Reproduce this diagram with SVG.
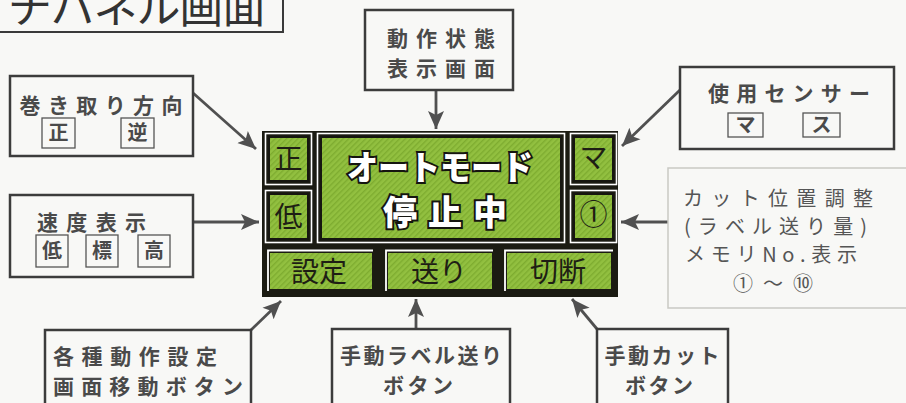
<svg xmlns="http://www.w3.org/2000/svg" width="906" height="403" viewBox="0 0 906 403">
<style>
.bx{fill:none;stroke:#3c3c3c;stroke-width:2.5}
.sb{fill:none;stroke:#555;stroke-width:1.3}
.t{font-family:"Noto Sans CJK JP","Noto Sans",sans-serif;font-weight:700;fill:#4a4a4a;font-size:21px;text-anchor:middle}
.ts{font-family:"Noto Sans CJK JP","Noto Sans",sans-serif;font-weight:700;fill:#4a4a4a;font-size:20px;text-anchor:middle}
.tl{font-family:"Noto Sans CJK JP","Noto Sans",sans-serif;font-weight:400;fill:#555;font-size:20px}
.cellw{fill:none;stroke:#fff;stroke-width:1.6}
.cell{fill:url(#g);stroke:#161610;stroke-width:2}
.lcd{font-family:"Noto Sans CJK JP",sans-serif;font-weight:400;fill:#1e1e14;font-size:28px;text-anchor:middle}
.big{font-family:"Noto Sans CJK JP",sans-serif;font-weight:900;fill:#fff;stroke:#151510;stroke-width:4;paint-order:stroke;font-size:34px;text-anchor:middle}
.con{stroke:#505050;stroke-width:2.8;fill:none;marker-end:url(#ah)}
</style>
<defs>
<pattern id="g" width="4" height="4" patternUnits="userSpaceOnUse" patternTransform="rotate(45)">
<rect width="4" height="4" fill="#92c040"/>
<rect width="1.4" height="4" fill="#7eac30"/>
</pattern>
<marker id="ah" markerUnits="userSpaceOnUse" markerWidth="20" markerHeight="20" viewBox="0 0 20 20" refX="18" refY="10" orient="auto">
<path d="M0,2 L18,10 L0,18 L4,10 Z" fill="#505050"/>
</marker>
</defs>
<rect width="906" height="403" fill="#f8f8f6"/>

<g id="title">
<rect x="-5" y="-5" width="288" height="37" fill="none" stroke="#3a3a3a" stroke-width="2"/>
<text x="8" y="23" font-family="'Noto Sans CJK JP',sans-serif" font-weight="400" font-size="44" fill="#333" textLength="258" lengthAdjust="spacing">チパネル画面</text>
</g>

<g id="connectors">
<line class="con" x1="193" y1="93" x2="256" y2="149"/>
<line class="con" x1="193" y1="222" x2="259" y2="222"/>
<line class="con" x1="251" y1="330" x2="281" y2="301"/>
<line class="con" x1="436" y1="90" x2="436" y2="129"/>
<line class="con" x1="680" y1="90" x2="622" y2="146"/>
<line class="con" x1="668" y1="222" x2="621" y2="222"/>
<line class="con" x1="416" y1="329" x2="416" y2="299"/>
<line class="con" x1="597" y1="329" x2="572" y2="299"/>
</g>

<g id="winding">
<rect class="bx" x="10" y="76" width="183" height="80"/>
<text class="t" x="101" y="113" textLength="163" lengthAdjust="spacing">巻き取り方向</text>
<rect class="sb" x="42" y="118" width="33" height="30"/>
<text class="ts" x="58.5" y="140">正</text>
<rect class="sb" x="121" y="118" width="33" height="30"/>
<text class="ts" x="137.5" y="140">逆</text>
</g>

<g id="speed">
<rect class="bx" x="10" y="195" width="183" height="82"/>
<text class="t" x="91.5" y="230" textLength="109" lengthAdjust="spacing">速度表示</text>
<rect class="sb" x="36" y="235" width="32" height="32"/>
<text class="ts" x="52" y="258">低</text>
<rect class="sb" x="86" y="235" width="32" height="32"/>
<text class="ts" x="102" y="258">標</text>
<rect class="sb" x="138" y="235" width="32" height="32"/>
<text class="ts" x="154" y="258">高</text>
</g>

<g id="settings-btn-label">
<rect class="bx" x="45" y="330" width="206" height="80"/>
<text class="t" x="135" y="364" textLength="164" lengthAdjust="spacing">各種動作設定</text>
<text class="t" x="148" y="394" textLength="190" lengthAdjust="spacing">画面移動ボタン</text>
</g>

<g id="status-label">
<rect class="bx" x="365" y="10" width="148" height="80"/>
<text class="t" x="441" y="46" textLength="108" lengthAdjust="spacing">動作状態</text>
<text class="t" x="441" y="76" textLength="108" lengthAdjust="spacing">表示画面</text>
</g>

<g id="sensor">
<rect class="bx" x="680" y="67" width="214" height="82"/>
<text class="t" x="789" y="101" textLength="162" lengthAdjust="spacing">使用センサー</text>
<rect class="sb" x="728" y="113" width="35" height="24"/>
<text class="ts" x="745.5" y="132">マ</text>
<rect class="sb" x="803" y="113" width="37" height="24"/>
<text class="ts" x="821.5" y="132">ス</text>
</g>

<g id="cut-position">
<rect x="668" y="168" width="250" height="140" fill="none" stroke="#c9c9c4" stroke-width="1.5"/>
<text class="tl" x="683" y="206" textLength="190" lengthAdjust="spacing">カット位置調整</text>
<text class="tl" x="684" y="234" textLength="183" lengthAdjust="spacing">(ラベル送り量)</text>
<text class="tl" x="685" y="262" textLength="172" lengthAdjust="spacing">メモリNo.表示</text>
<text class="tl" x="733" y="291" textLength="80" lengthAdjust="spacing">①〜⑩</text>
</g>

<g id="feed-label">
<rect class="bx" x="332" y="329" width="178" height="80"/>
<text class="t" x="421" y="363" textLength="162" lengthAdjust="spacing">手動ラベル送り</text>
<text class="t" x="418" y="393" textLength="70" lengthAdjust="spacing">ボタン</text>
</g>

<g id="cut-label">
<rect class="bx" x="597" y="329" width="131" height="80"/>
<text class="t" x="662" y="363" textLength="115" lengthAdjust="spacing">手動カット</text>
<text class="t" x="659" y="393" textLength="68" lengthAdjust="spacing">ボタン</text>
</g>

<g id="panel">
<rect x="262" y="131" width="356" height="166" fill="#1b1b12"/>
<rect class="cellw" x="265.5" y="133.5" width="46" height="51"/>
<rect class="cell" x="269" y="137" width="39" height="44"/>
<text class="lcd" x="288.5" y="169">正</text>
<rect class="cellw" x="265.5" y="190.5" width="46" height="52"/>
<rect class="cell" x="269" y="194" width="39" height="45"/>
<text class="lcd" x="288.5" y="227">低</text>
<rect class="cellw" x="317.5" y="133.5" width="247" height="109"/>
<rect class="cell" x="321" y="137" width="240" height="102"/>
<text class="big" x="440" y="180" textLength="186" lengthAdjust="spacingAndGlyphs">オートモード</text>
<text class="big" x="445" y="225" font-size="37" textLength="124" lengthAdjust="spacing">停止中</text>
<rect class="cellw" x="570.5" y="133.5" width="46" height="51"/>
<rect class="cell" x="574" y="137" width="39" height="44"/>
<text class="lcd" x="593.5" y="168" font-size="24">マ</text>
<rect class="cellw" x="570.5" y="190.5" width="46" height="52"/>
<rect class="cell" x="574" y="194" width="39" height="45"/>
<text class="lcd" x="593.5" y="225" font-size="26">①</text>
</g>

<g id="btn-settings">
<rect x="265" y="248" width="112" height="49" fill="#1b1b12"/>
<path d="M268,291 V250.5 H373" fill="none" stroke="#fff" stroke-width="1.8"/>
<rect x="270" y="253" width="102" height="36" fill="url(#g)"/>
<text class="lcd" x="319" y="282">設定</text>
</g>
<g id="btn-feed">
<rect x="383" y="248" width="114" height="49" fill="#1b1b12"/>
<path d="M386,291 V250.5 H493" fill="none" stroke="#fff" stroke-width="1.8"/>
<rect x="388" y="253" width="104" height="36" fill="url(#g)"/>
<text class="lcd" x="439" y="282">送り</text>
</g>
<g id="btn-cut">
<rect x="502" y="248" width="116" height="49" fill="#1b1b12"/>
<path d="M505,291 V250.5 H613" fill="none" stroke="#fff" stroke-width="1.8"/>
<rect x="507" y="253" width="104" height="36" fill="url(#g)"/>
<text class="lcd" x="558" y="282">切断</text>
</g>
</svg>
